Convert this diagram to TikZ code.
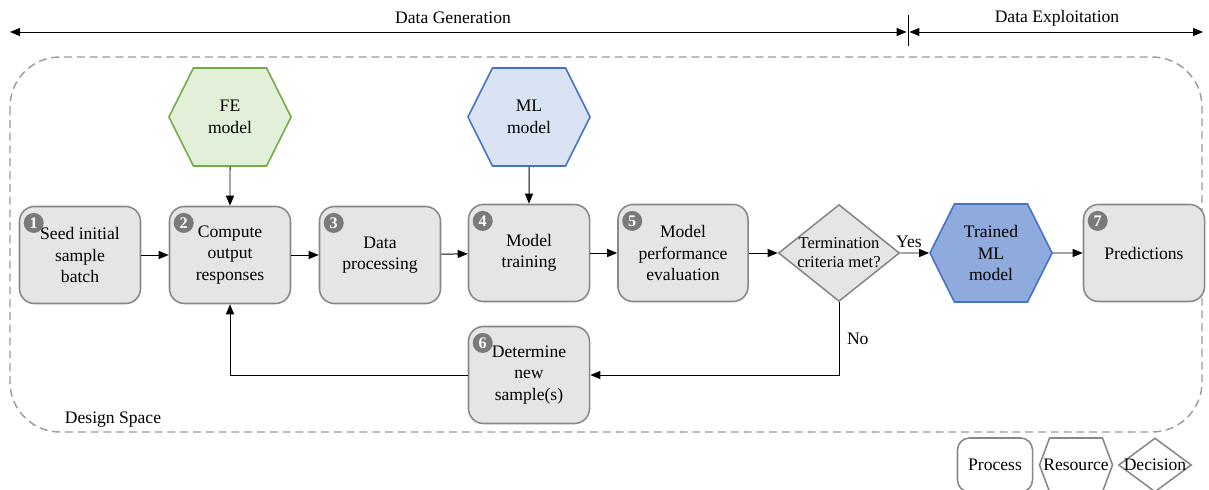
\documentclass[tikz,border=0pt]{standalone}
\usepackage{fontspec}
\setmainfont{Liberation Serif}
\usetikzlibrary{arrows.meta,shapes.geometric,shapes.symbols}

\definecolor{procfill}{HTML}{E6E5E5}
\definecolor{procline}{HTML}{878787}
\definecolor{badgegray}{HTML}{7A7A7A}
\definecolor{fefill}{HTML}{E2F0D9}
\definecolor{feline}{HTML}{70AD47}
\definecolor{mlfill}{HTML}{DAE3F3}
\definecolor{mlline}{HTML}{4472C4}
\definecolor{trainfill}{HTML}{8FAADC}
\definecolor{spaceline}{HTML}{9A9A9A}

\begin{document}
\begin{tikzpicture}[x=0.025cm, y=-0.025cm,
    font=\fontsize{12.5}{15.3}\selectfont,
    process/.style={draw=procline, fill=procfill, line width=1.1pt, rounded corners=0.375cm,
        minimum width=3.025cm, minimum height=2.425cm, align=center, inner sep=2pt},
    resource/.style={signal, signal to=west and east, signal pointer angle=127, line width=1.1pt,
        minimum width=3.05cm, minimum height=2.45cm, align=center},
    decision/.style={diamond, draw=procline, fill=procfill, line width=1.1pt, aspect=1.25,
        inner sep=0pt, minimum width=3cm, minimum height=2.4cm, align=center,
        font=\fontsize{11.8}{13.5}\selectfont},
    badge/.style={circle, fill=badgegray, text=white, inner sep=0pt, minimum size=0.5cm,
        font=\fontsize{11.5}{11.5}\selectfont\bfseries},
    arr/.style={-{Triangle[length=0.25cm,width=0.2cm]}, line width=0.7pt},
    legendbox/.style={draw=procline, fill=white, line width=1.1pt, inner sep=0pt}
]
    \useasboundingbox (0,0) rectangle (1209,490);

    % Phases (top)
    \coordinate (genL) at (10,32);
    \coordinate (split) at (908,32);
    \coordinate (expR) at (1203,32);
    \coordinate (tickT) at (908,15);
    \coordinate (tickB) at (908,46);
    \draw[line width=0.7pt, {Triangle[length=0.25cm,width=0.2cm]}-{Triangle[length=0.25cm,width=0.2cm]}] (genL) -- ([xshift=-1pt]split);
    \draw[line width=0.7pt, {Triangle[length=0.25cm,width=0.2cm]}-{Triangle[length=0.25cm,width=0.2cm]}] ([xshift=1pt]split) -- (expR);
    \draw[line width=0.7pt] (tickT) -- (tickB);
    \node (gen) at (453,18) {Data Generation};
    \node (exp) at (1057,18) {Data Exploitation};

    % Design space (dashed frame)
    \draw[spaceline, line width=1pt, dash pattern=on 0.2cm off 0.12cm, rounded corners=1.25cm]
        (10,57) rectangle (1202,432);
    \node (space) at (113,420) {Design Space};

    % Resources
    \node[resource, draw=feline, fill=fefill] (fe) at (230,117) {FE\\model};
    \node[resource, draw=mlline, fill=mlfill] (ml) at (529,117) {ML\\model};

    % Process steps
    \node[process] (b1) at (80,255) {Seed initial\\sample\\batch};
    \node[process] (b2) at (230,255) {Compute\\output\\responses};
    \node[process] (b3) at (380,255) {Data\\processing};
    \node[process] (b4) at (529,253) {Model\\training};
    \node[process, minimum width=3.25cm] (b5) at (683,253) {Model\\performance\\evaluation};
    \node[decision] (dec) at (839,253) {Termination\\criteria met?};
    \node[resource, draw=mlline, fill=trainfill] (trained) at (991,253) {Trained\\ML\\model};
    \node[process] (b7) at (1144,253) {Predictions};
    \node[process] (b6) at (529,375) {Determine\\new\\sample(s)};

    % Step numbers
    \foreach \i in {1,...,7}
        \node[badge] (n\i) at ([xshift=0.375cm,yshift=-0.43cm]b\i.north west) {\i};

    % Flow
    \draw[arr] (b1) -- (b2);
    \draw[arr] (b2) -- (b3);
    \draw[arr] (b3) -- (b4);
    \draw[arr] (b4) -- (b5);
    \draw[arr] (b5) -- (dec);
    \draw[arr] (dec) -- (trained) node[pos=0.3, above] {Yes};
    \draw[arr] (trained) -- (b7);
    \draw[arr] (fe) -- (b2);
    \draw[arr] (ml) -- (b4);
    \draw[arr] (dec.south) |- (b6.east) node[pos=0.25, right=2pt] {No};
    \draw[arr] (b6.west) -| (b2.south);

    % Legend
    \node[legendbox, rounded corners=0.3cm, minimum width=1.875cm, minimum height=1.35cm] (lproc) at (995,465) {Process};
    \node[legendbox, signal, signal to=west and east, signal pointer angle=139,
        minimum width=1.825cm, minimum height=1.35cm] (lres) at (1076,465) {\makebox[0pt]{Resource}};
    \node[legendbox, diamond, minimum width=1.825cm, minimum height=1.35cm] (ldec) at (1155,465) {\makebox[0pt]{Decision}};
\end{tikzpicture}
\end{document}
